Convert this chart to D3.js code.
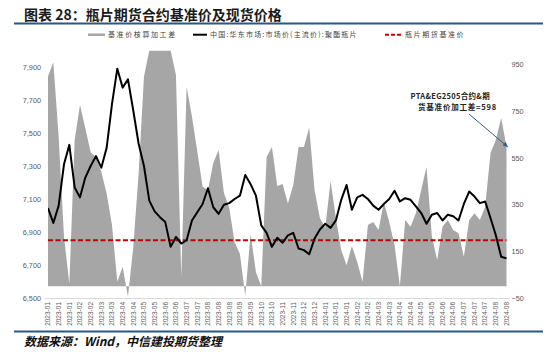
<!DOCTYPE html>
<html>
<head>
<meta charset="utf-8">
<script src="https://cdn.jsdelivr.net/npm/d3@7"></script>
<style>
  body { margin: 0; background: #fff; }
  svg { display: block; font-family: "Liberation Sans", Arial, sans-serif; }
  .cjk { font-family: "Noto Sans CJK SC", "Noto Sans", sans-serif; }
</style>
</head>
<body>
<svg id="chart" width="550" height="352"></svg>
<script>
// x-axis tick labels (one every second data point)
const dateLabels = [
  "2023-01","2023-01","2023-01","2023-02","2023-02","2023-03","2023-03","2023-04","2023-04",
  "2023-05","2023-05","2023-06","2023-06","2023-07","2023-07","2023-08","2023-08","2023-08",
  "2023-09","2023-09","2023-10","2023-10","2023-11","2023-11","2023-12","2023-12",
  "2024-01","2024-01","2024-01","2024-02","2024-02","2024-03","2024-03","2024-04","2024-04",
  "2024-05","2024-05","2024-06","2024-06","2024-07","2024-07","2024-07","2024-08","2024-08"
];

// 基准价核算加工差 (right axis)
const spread = [
  900, 960, 640, 213, 10, 627, 777, 677, 574, 553,
  491, 398, 263, 20, 84, -45, 170, 484, 898, 1010,
  1010, 1010, 1010, 1010, 905, 40, 855, 727, 577, 427,
  413, 528, 584, 400, 335, 190, 138, -40, 224, 61,
  0, 554, 597, 430, 438, 355, 434, 597, 597, 680,
  413, 293, 250, 451, 293, 156, 90, 173, 104, 20,
  263, 276, 241, 361, 276, 177, 0, 284, 255, 313,
  413, 512, 213, 113, 255, 284, 241, 227, 127, 284,
  313, 284, 341, 571, 627, 721, 598
];

// 中国:华东市场:市场价(主流价):聚酯瓶片 (left axis)
const spotPrice = [
  7045, 6955, 7060, 7310, 7428, 7170, 7110, 7230, 7300, 7360,
  7290, 7410, 7675, 7890, 7775, 7825, 7635, 7435, 7300, 7090,
  7025, 6990, 6960, 6810, 6870, 6830, 6850, 6970, 7020, 7070,
  7165, 7050, 7010, 7065, 7075, 7100, 7120, 7245, 7190, 7120,
  6940, 6895, 6810, 6865, 6835, 6880, 6895, 6800, 6790, 6765,
  6860, 6915, 6950, 6925, 6970, 7095, 7185, 7035, 7110, 7125,
  7100, 7060, 7035, 7070, 7100, 7150, 7085, 7105, 7095, 7055,
  7015, 6950, 7005, 7015, 6970, 7005, 6995, 6970, 7070, 7145,
  7115, 7075, 7085, 6985, 6880, 6750, 6740
];

// 瓶片期货基准价 (left axis)
const basePrice = 6850;

const leftTicks = [6500, 6700, 6900, 7100, 7300, 7500, 7700, 7900];
const rightTicks = [-50, 150, 350, 550, 750, 950];

const svg = d3.select("#chart");
const plot = { left: 48, right: 506.5, top: 50.5, bottom: 298 };

const x = d3.scalePoint().domain(d3.range(spread.length)).range([plot.left, plot.right]);
const yL = d3.scaleLinear().domain([6500, 8000]).range([plot.bottom, plot.top]);
const yR = d3.scaleLinear().domain([-50, 1010]).range([plot.bottom, plot.top]);

svg.append("defs").append("clipPath").attr("id", "plotClip")
  .append("rect")
  .attr("x", plot.left).attr("y", plot.top)
  .attr("width", plot.right - plot.left + 2).attr("height", plot.bottom - plot.top + 1);

// title + rules
svg.append("text").attr("class", "cjk")
  .attr("x", 24).attr("y", 19.5)
  .attr("font-size", 14).attr("font-weight", 700).attr("fill", "#1a1a1a")
  .text("图表 28：瓶片期货合约基准价及现货价格");
svg.append("rect").attr("x", 14).attr("y", 22.5).attr("width", 529).attr("height", 2).attr("fill", "#2a5783");
svg.append("rect").attr("x", 14).attr("y", 330.5).attr("width", 529).attr("height", 2).attr("fill", "#2a5783");

// legend
const lg = svg.append("g").attr("class", "cjk").attr("font-size", 7).attr("fill", "#444");
lg.append("rect").attr("x", 88).attr("y", 33.5).attr("width", 17).attr("height", 2.5).attr("fill", "#a6a6a6");
lg.append("text").attr("x", 108).attr("y", 37.3).attr("letter-spacing", 1.6).text("基准价核算加工差");
lg.append("line").attr("x1", 193).attr("x2", 207).attr("y1", 34.7).attr("y2", 34.7).attr("stroke", "#000").attr("stroke-width", 2);
lg.append("text").attr("x", 210).attr("y", 37.3).attr("letter-spacing", 1.2).text("中国:华东市场:市场价(主流价):聚酯瓶片");
lg.append("line").attr("x1", 385).attr("x2", 403).attr("y1", 34.7).attr("y2", 34.7)
  .attr("stroke", "#c00000").attr("stroke-width", 2).attr("stroke-dasharray", "4,2");
lg.append("text").attr("x", 405).attr("y", 37.3).attr("letter-spacing", 1.6).text("瓶片期货基准价");

// bottom rule of plot
svg.append("line").attr("x1", plot.left - 3).attr("x2", plot.right + 3)
  .attr("y1", plot.bottom + 0.5).attr("y2", plot.bottom + 0.5)
  .attr("stroke", "#d9d9d9").attr("stroke-width", 1);

const layer = svg.append("g").attr("clip-path", "url(#plotClip)");

// gray spread area, base at 0 on right axis
layer.append("path")
  .datum(spread)
  .attr("fill", "#a6a6a6")
  .attr("d", d3.area().x((d, i) => x(i)).y0(yR(0)).y1(d => yR(d)));

// red dashed base price
layer.append("line")
  .attr("x1", x(0)).attr("x2", x(spread.length - 1))
  .attr("y1", yL(basePrice)).attr("y2", yL(basePrice))
  .attr("stroke", "#c00000").attr("stroke-width", 2).attr("stroke-dasharray", "5,2.5");

// black spot price line
layer.append("path")
  .datum(spotPrice)
  .attr("fill", "none").attr("stroke", "#000").attr("stroke-width", 2)
  .attr("stroke-linejoin", "round")
  .attr("d", d3.line().x((d, i) => x(i)).y(d => yL(d)));

// axes
const axL = svg.append("g").attr("transform", `translate(${plot.left - 4},0)`)
  .call(d3.axisLeft(yL).tickValues(leftTicks).tickSize(0).tickPadding(3).tickFormat(d3.format(",")));
axL.select(".domain").remove();
axL.selectAll("text").attr("font-size", 7.3).attr("fill", "#595959").attr("font-family", "Liberation Sans, Arial, sans-serif");

const axR = svg.append("g").attr("transform", `translate(${plot.right + 2},0)`)
  .call(d3.axisRight(yR).tickValues(rightTicks).tickSize(0).tickPadding(3));
axR.select(".domain").remove();
axR.selectAll("text").attr("font-size", 7.3).attr("fill", "#595959").attr("font-family", "Liberation Sans, Arial, sans-serif");

// x labels (rotated)
svg.append("g").selectAll("text")
  .data(dateLabels)
  .join("text")
  .attr("transform", (d, j) => `translate(${x(j * 2) + 2.3},302) rotate(-90)`)
  .attr("text-anchor", "end")
  .attr("font-size", 6.5)
  .attr("fill", "#595959")
  .text(d => d);

// annotation
const ann = svg.append("g").attr("class", "cjk").attr("font-size", 7.5).attr("font-weight", 700).attr("fill", "#222");
ann.append("text").attr("x", 410.5).attr("y", 98.5).attr("letter-spacing", 0.3).text("PTA&EG2505合约&期");
ann.append("text").attr("x", 418).attr("y", 110).attr("letter-spacing", 0.8).text("货基准价加工差=598");
svg.append("defs").append("marker").attr("id", "arrow")
  .attr("viewBox", "0 0 10 10").attr("refX", 9).attr("refY", 5)
  .attr("markerWidth", 5).attr("markerHeight", 5).attr("orient", "auto")
  .append("path").attr("d", "M0,0L10,5L0,10Z").attr("fill", "#2f5f8a");
svg.append("line")
  .attr("x1", 469).attr("y1", 114)
  .attr("x2", x(spread.length - 1) + 1).attr("y2", yR(spread[spread.length - 1]))
  .attr("stroke", "#2f5f8a").attr("stroke-width", 1).attr("marker-end", "url(#arrow)");

// footer
svg.append("text").attr("class", "cjk")
  .attr("x", 24).attr("y", 345.5)
  .attr("font-size", 12).attr("font-weight", 700).attr("font-style", "italic").attr("fill", "#111")
  .text("数据来源：Wind，中信建投期货整理");
</script>
</body>
</html>
